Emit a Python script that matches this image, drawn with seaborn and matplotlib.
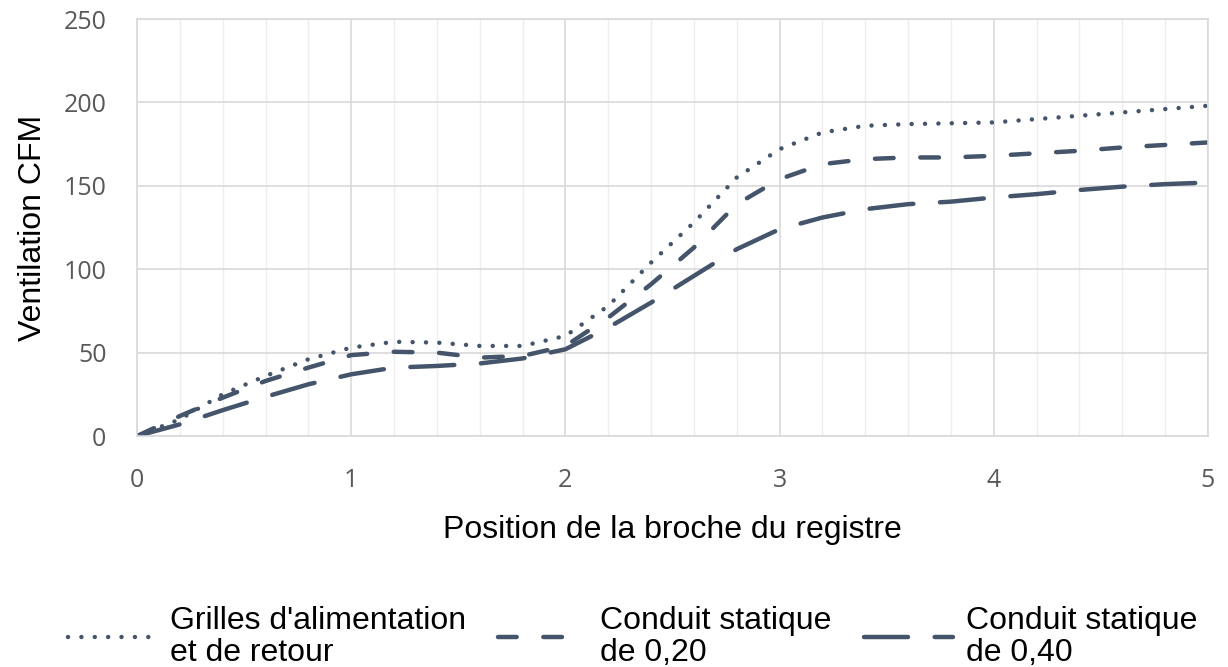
import numpy as np
import pandas as pd
import matplotlib
matplotlib.use("Agg")
import matplotlib.pyplot as plt
from matplotlib.ticker import MultipleLocator
import seaborn as sns

# Position de la broche (lecture tous les 0,2)
position = [0.0, 0.2, 0.4, 0.6, 0.8, 1.0, 1.2, 1.4, 1.6, 1.8, 2.0, 2.2, 2.4,
            2.6, 2.8, 3.0, 3.2, 3.4, 3.6, 3.8, 4.0, 4.2, 4.4, 4.6, 4.8, 5.0]

grilles = [0, 10, 25, 36, 46, 53, 56.5, 56, 54, 54, 60, 78, 104,
           128, 155, 172, 182, 186, 187, 187.5, 188, 190, 192, 194, 196, 198]
conduit_020 = [0, 12, 23, 33, 41, 48.5, 50.5, 50, 47, 48, 54, 71, 91,
               113, 139, 154, 163, 166, 167, 167, 168, 169.5, 171, 173, 174.5, 176]
conduit_040 = [0, 7, 15.5, 23.5, 31, 37, 41, 42, 43.5, 46.5, 52, 65, 80,
               96, 112, 124, 131, 136, 139, 140.5, 143, 145, 147.5, 149.5, 151, 152]

labels = ["Grilles d'alimentation\net de retour",
          "Conduit statique\nde 0,20",
          "Conduit statique\nde 0,40"]

sns.set_style("white")
plt.rcParams['font.family'] = ['Liberation Sans', 'DejaVu Sans']

couleur = '#44546A'
styles = [(0, (0.01, 3.0)), (0, (4.2, 6.0)), (0, (9.9, 6.0))]

fig = plt.figure(figsize=(12.28, 6.67), dpi=100)
ax = fig.add_axes([0.1116, 0.3463, 0.8721, 0.6252])

for serie, lab, ls in zip([grilles, conduit_020, conduit_040], labels, styles):
    sns.lineplot(x=position, y=serie, ax=ax, color=couleur, linewidth=3.2,
                 linestyle=ls, dash_capstyle='round', label=lab)

if ax.get_legend() is not None:
    ax.get_legend().remove()

ax.set_xlim(0, 5)
ax.set_ylim(0, 250)
ax.xaxis.set_major_locator(MultipleLocator(1))
ax.xaxis.set_minor_locator(MultipleLocator(0.2))
ax.yaxis.set_major_locator(MultipleLocator(50))

ax.grid(which='major', axis='both', color='#d9d9d9', linewidth=1.2)
ax.grid(which='minor', axis='x', color='#eeeeee', linewidth=1.0)
ax.set_axisbelow(True)
for sp in ax.spines.values():
    sp.set_color('#d9d9d9')
    sp.set_linewidth(1.2)

ax.tick_params(axis='both', which='both', length=0, labelsize=18, colors='#595959')
ax.tick_params(axis='y', pad=22)
ax.tick_params(axis='x', pad=23)
for t in ax.get_xticklabels() + ax.get_yticklabels():
    t.set_fontfamily(['Open Sans', 'DejaVu Sans'])

ax.set_xlabel('Position de la broche du registre', fontsize=23, color='black', labelpad=16)
ax.set_ylabel('Ventilation CFM', fontsize=23, color='black', labelpad=11)

handles = ax.get_lines()[:3]
leg = fig.legend(handles, labels, loc='center', bbox_to_anchor=(0.515, 0.045), ncol=3,
                 frameon=False, fontsize=23, handlelength=2.8, handletextpad=0.4,
                 columnspacing=1.0, labelspacing=0.2, labelcolor='black')
for t in leg.get_texts():
    t.set_linespacing(1.05)

fig.savefig('out.png', dpi=100)
